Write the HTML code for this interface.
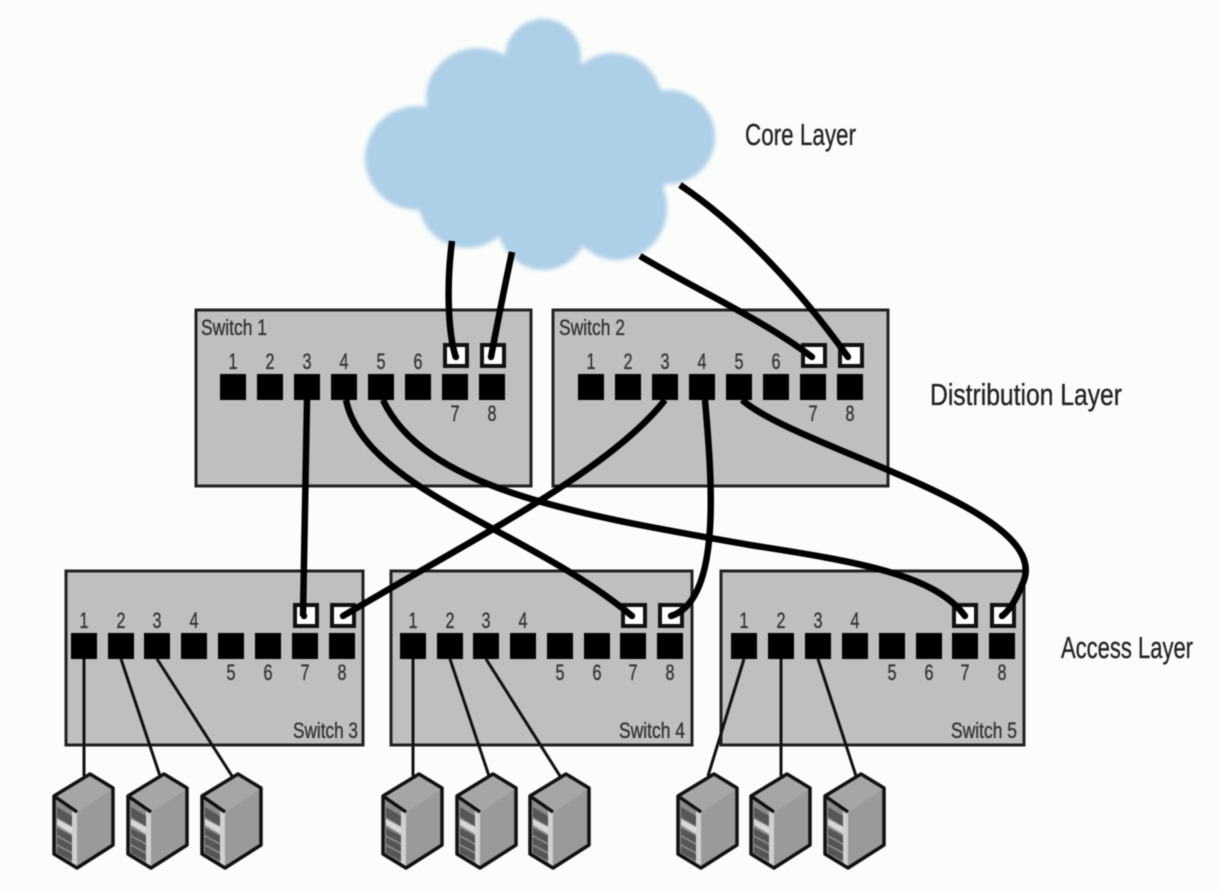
<!DOCTYPE html>
<html><head><meta charset="utf-8"><title>Network layers</title>
<style>html,body{margin:0;padding:0;background:#fbfdfb}svg{display:block;filter:blur(.5px)}
text{font-family:"Liberation Sans",sans-serif;fill:#333;stroke:#333;stroke-width:.35px}
.n{font-size:22.5px;text-anchor:middle}.s{font-size:22px}.l{font-size:31px;fill:#222;stroke:#222}
.box{fill:#bfbfbf;stroke:#222;stroke-width:3}
.w{fill:none;stroke:#000;stroke-width:6.5;stroke-linecap:butt}
.t{fill:none;stroke:#111;stroke-width:3}
</style></head><body>
<svg width="1219" height="892" viewBox="0 0 1219 892" xmlns="http://www.w3.org/2000/svg">
<defs>
<filter id="b" x="-10%" y="-10%" width="120%" height="120%"><feGaussianBlur stdDeviation="2.2"/></filter>
<g id="srv">
<path d="M54 796 90 774 113 788 77 812Z" fill="#a6a6a4"/>
<path d="M77 812 113 788V845L77 868Z" fill="#9a9a98"/>
<path d="M54 796 77 812V868L54 854Z" fill="#8a8a88"/>
<path d="M72 810 77 812V868L72 865Z" fill="#d0d0ce"/>
<path d="M57 807 72 816V826L57 817Z" fill="#555755"/>
<path d="M57 819 72 827V834L57 825Z" fill="#d8d8d6"/>
<path d="M57 828 72 836V843L57 835Z" fill="#555"/>
<path d="M57 837 72 845V852L57 844Z" fill="#555"/>
<path d="M57 846 72 854V861L57 853Z" fill="#555"/>
<path d="M54 796 90 774 113 788V845L77 868 54 854ZM54 796 77 812" fill="none" stroke="#111" stroke-width="3.5" stroke-linejoin="round"/>
</g>
</defs>
<rect width="1219" height="892" fill="#fbfdfb"/>

<g fill="#aecfe8" filter="url(#b)">
<circle cx="543" cy="57" r="38"/><ellipse cx="478" cy="98" rx="52" ry="50"/><circle cx="417" cy="158" r="52"/>
<ellipse cx="613" cy="103" rx="49" ry="50"/><ellipse cx="668" cy="137" rx="47" ry="47"/><circle cx="467" cy="199" r="49"/>
<circle cx="543" cy="225" r="45"/><ellipse cx="617" cy="208" rx="50" ry="52"/><ellipse cx="545" cy="150" rx="130" ry="90"/>
</g>

<rect class="box" x="196" y="310" width="335" height="176"/>
<rect class="box" x="553" y="310" width="335" height="176"/>
<rect class="box" x="66" y="571" width="297" height="174"/>
<rect class="box" x="391" y="571" width="301" height="174"/>
<rect class="box" x="721" y="571" width="303" height="174"/>

<g fill="#000">
<rect x="220" y="374" width="26" height="26"/><rect x="257" y="374" width="26" height="26"/><rect x="294" y="374" width="26" height="26"/><rect x="331" y="374" width="26" height="26"/><rect x="368" y="374" width="26" height="26"/><rect x="405" y="374" width="26" height="26"/><rect x="442" y="374" width="26" height="26"/><rect x="479" y="374" width="26" height="26"/>
<rect x="578" y="374" width="26" height="26"/><rect x="615" y="374" width="26" height="26"/><rect x="652" y="374" width="26" height="26"/><rect x="689" y="374" width="26" height="26"/><rect x="726" y="374" width="26" height="26"/><rect x="763" y="374" width="26" height="26"/><rect x="800" y="374" width="26" height="26"/><rect x="837" y="374" width="26" height="26"/>
<rect x="71" y="633" width="26" height="26"/><rect x="108" y="633" width="26" height="26"/><rect x="144" y="633" width="26" height="26"/><rect x="181" y="633" width="26" height="26"/><rect x="218" y="633" width="26" height="26"/><rect x="255" y="633" width="26" height="26"/><rect x="292" y="633" width="26" height="26"/><rect x="329" y="633" width="26" height="26"/>
<rect x="400" y="633" width="26" height="26"/><rect x="437" y="633" width="26" height="26"/><rect x="473" y="633" width="26" height="26"/><rect x="510" y="633" width="26" height="26"/><rect x="547" y="633" width="26" height="26"/><rect x="584" y="633" width="26" height="26"/><rect x="620" y="633" width="26" height="26"/><rect x="657" y="633" width="26" height="26"/>
<rect x="731" y="633" width="26" height="26"/><rect x="768" y="633" width="26" height="26"/><rect x="805" y="633" width="26" height="26"/><rect x="842" y="633" width="26" height="26"/><rect x="879" y="633" width="26" height="26"/><rect x="916" y="633" width="26" height="26"/><rect x="952" y="633" width="26" height="26"/><rect x="989" y="633" width="26" height="26"/>
</g>
<g fill="#fff" stroke="#111" stroke-width="4">
<rect x="445" y="345" width="22" height="21"/><rect x="482" y="345" width="22" height="21"/>
<rect x="803" y="345" width="22" height="21"/><rect x="840" y="345" width="22" height="21"/>
<rect x="295" y="605" width="22" height="21"/><rect x="332" y="605" width="22" height="21"/>
<rect x="623" y="605" width="22" height="21"/><rect x="660" y="605" width="22" height="21"/>
<rect x="954" y="605" width="22" height="21"/><rect x="992" y="605" width="22" height="21"/>
</g>

<g fill="#000"><circle cx="456" cy="357" r="3.2"/><circle cx="491" cy="357" r="3.2"/><circle cx="812" cy="357" r="3.2"/><circle cx="848" cy="357" r="3.2"/><circle cx="304" cy="616" r="3.2"/><circle cx="343" cy="616" r="3.2"/><circle cx="632" cy="616" r="3.2"/><circle cx="671" cy="616" r="3.2"/><circle cx="965" cy="616" r="3.2"/><circle cx="1002" cy="616" r="3.2"/></g>

<path class="w" d="M452 241C447 280 447 330 456 358"/>
<path class="w" d="M512 252C505 285 498 320 491 357"/>
<path class="w" d="M640 256C700 292 760 318 812 357"/>
<path class="w" d="M680 185C740 225 800 290 848 357"/>
<path class="w" d="M307 400L303 616"/>
<path class="w" d="M346 400C365 490 530 530 632 616"/>
<path class="w" d="M383 400C425 490 580 515 750 545C860 562 935 575 965 616"/>
<path class="w" d="M665 400C610 470 480 535 343 616"/>
<path class="w" d="M705 400C712 480 722 600 671 616"/>
<path class="w" d="M742 400C800 450 1060 510 1022 585C1016 600 1010 610 1002 616"/>

<path class="t" d="M84 659V776M121 659L160 776M157 659L232 776M413 659V776M450 659L489 776M486 659L560 776M744 659L708 776M781 659V776M818 659L856 776"/>

<use href="#srv"/><use href="#srv" x="74"/><use href="#srv" x="148"/>
<use href="#srv" x="329"/><use href="#srv" x="403"/><use href="#srv" x="476"/>
<use href="#srv" x="624"/><use href="#srv" x="697"/><use href="#srv" x="771"/>

<g>
<text class="n" x="233" y="369" textLength="9" lengthAdjust="spacingAndGlyphs">1</text><text class="n" x="270" y="369" textLength="9" lengthAdjust="spacingAndGlyphs">2</text><text class="n" x="307" y="369" textLength="9" lengthAdjust="spacingAndGlyphs">3</text><text class="n" x="344" y="369" textLength="9" lengthAdjust="spacingAndGlyphs">4</text><text class="n" x="381" y="369" textLength="9" lengthAdjust="spacingAndGlyphs">5</text><text class="n" x="418" y="369" textLength="9" lengthAdjust="spacingAndGlyphs">6</text><text class="n" x="455" y="421" textLength="9" lengthAdjust="spacingAndGlyphs">7</text><text class="n" x="492" y="421" textLength="9" lengthAdjust="spacingAndGlyphs">8</text>
<text class="n" x="591" y="369" textLength="9" lengthAdjust="spacingAndGlyphs">1</text><text class="n" x="628" y="369" textLength="9" lengthAdjust="spacingAndGlyphs">2</text><text class="n" x="665" y="369" textLength="9" lengthAdjust="spacingAndGlyphs">3</text><text class="n" x="702" y="369" textLength="9" lengthAdjust="spacingAndGlyphs">4</text><text class="n" x="739" y="369" textLength="9" lengthAdjust="spacingAndGlyphs">5</text><text class="n" x="776" y="369" textLength="9" lengthAdjust="spacingAndGlyphs">6</text><text class="n" x="813" y="421" textLength="9" lengthAdjust="spacingAndGlyphs">7</text><text class="n" x="850" y="421" textLength="9" lengthAdjust="spacingAndGlyphs">8</text>
<text class="n" x="84" y="628" textLength="9" lengthAdjust="spacingAndGlyphs">1</text><text class="n" x="121" y="628" textLength="9" lengthAdjust="spacingAndGlyphs">2</text><text class="n" x="157" y="628" textLength="9" lengthAdjust="spacingAndGlyphs">3</text><text class="n" x="194" y="628" textLength="9" lengthAdjust="spacingAndGlyphs">4</text><text class="n" x="231" y="680" textLength="9" lengthAdjust="spacingAndGlyphs">5</text><text class="n" x="268" y="680" textLength="9" lengthAdjust="spacingAndGlyphs">6</text><text class="n" x="305" y="680" textLength="9" lengthAdjust="spacingAndGlyphs">7</text><text class="n" x="342" y="680" textLength="9" lengthAdjust="spacingAndGlyphs">8</text>
<text class="n" x="413" y="628" textLength="9" lengthAdjust="spacingAndGlyphs">1</text><text class="n" x="450" y="628" textLength="9" lengthAdjust="spacingAndGlyphs">2</text><text class="n" x="486" y="628" textLength="9" lengthAdjust="spacingAndGlyphs">3</text><text class="n" x="523" y="628" textLength="9" lengthAdjust="spacingAndGlyphs">4</text><text class="n" x="560" y="680" textLength="9" lengthAdjust="spacingAndGlyphs">5</text><text class="n" x="597" y="680" textLength="9" lengthAdjust="spacingAndGlyphs">6</text><text class="n" x="633" y="680" textLength="9" lengthAdjust="spacingAndGlyphs">7</text><text class="n" x="670" y="680" textLength="9" lengthAdjust="spacingAndGlyphs">8</text>
<text class="n" x="744" y="628" textLength="9" lengthAdjust="spacingAndGlyphs">1</text><text class="n" x="781" y="628" textLength="9" lengthAdjust="spacingAndGlyphs">2</text><text class="n" x="818" y="628" textLength="9" lengthAdjust="spacingAndGlyphs">3</text><text class="n" x="855" y="628" textLength="9" lengthAdjust="spacingAndGlyphs">4</text><text class="n" x="892" y="680" textLength="9" lengthAdjust="spacingAndGlyphs">5</text><text class="n" x="929" y="680" textLength="9" lengthAdjust="spacingAndGlyphs">6</text><text class="n" x="965" y="680" textLength="9" lengthAdjust="spacingAndGlyphs">7</text><text class="n" x="1002" y="680" textLength="9" lengthAdjust="spacingAndGlyphs">8</text>
</g>

<text class="s" x="201" y="335" textLength="66" lengthAdjust="spacingAndGlyphs">Switch 1</text>
<text class="s" x="559" y="335" textLength="66" lengthAdjust="spacingAndGlyphs">Switch 2</text>
<text class="s" x="293" y="738" textLength="65" lengthAdjust="spacingAndGlyphs">Switch 3</text>
<text class="s" x="619" y="738" textLength="66" lengthAdjust="spacingAndGlyphs">Switch 4</text>
<text class="s" x="951" y="738" textLength="66" lengthAdjust="spacingAndGlyphs">Switch 5</text>

<text class="l" x="745" y="145" textLength="111" lengthAdjust="spacingAndGlyphs">Core Layer</text>
<text class="l" x="930" y="405" textLength="192" lengthAdjust="spacingAndGlyphs">Distribution Layer</text>
<text class="l" x="1061" y="658" textLength="132" lengthAdjust="spacingAndGlyphs">Access Layer</text>
</svg>
</body></html>
